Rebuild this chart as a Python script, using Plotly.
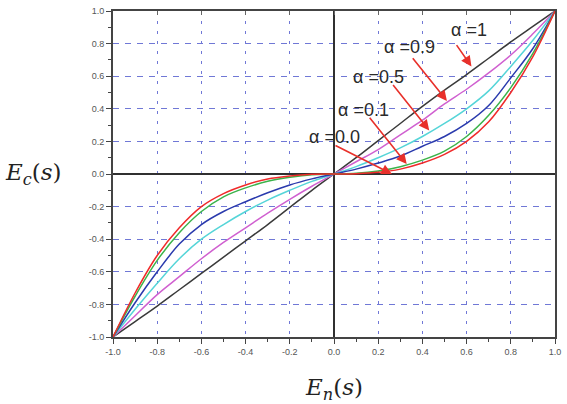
import plotly.graph_objects as go

x_vals = [-1.0, -0.9, -0.8, -0.7, -0.6, -0.5, -0.4, -0.3, -0.2, -0.1, 0.0,
          0.1, 0.2, 0.3, 0.4, 0.5, 0.6, 0.7, 0.8, 0.9, 1.0]

alpha_1 = [-1.0, -0.905, -0.81, -0.71, -0.61, -0.51, -0.41, -0.31, -0.205, -0.1, 0.0,
           0.1, 0.205, 0.31, 0.415, 0.515, 0.61, 0.71, 0.81, 0.905, 1.0]
alpha_09 = [-1.0, -0.87, -0.74, -0.63, -0.52, -0.42, -0.33, -0.24, -0.155, -0.075, 0.0,
            0.075, 0.15, 0.24, 0.33, 0.43, 0.52, 0.62, 0.73, 0.86, 1.0]
alpha_05 = [-1.0, -0.83, -0.67, -0.52, -0.40, -0.31, -0.23, -0.16, -0.10, -0.045, 0.0,
            0.045, 0.10, 0.16, 0.23, 0.31, 0.40, 0.51, 0.66, 0.82, 1.0]
alpha_01 = [-1.0, -0.79, -0.60, -0.43, -0.31, -0.23, -0.17, -0.115, -0.067, -0.03, 0.0,
            0.03, 0.067, 0.11, 0.17, 0.23, 0.31, 0.42, 0.59, 0.77, 1.0]
alpha_green = [-1.0, -0.75, -0.53, -0.36, -0.23, -0.14, -0.085, -0.045, -0.02, -0.004, 0.0,
               0.004, 0.018, 0.045, 0.085, 0.14, 0.23, 0.36, 0.53, 0.74, 1.0]
alpha_00 = [-1.0, -0.73, -0.50, -0.33, -0.20, -0.12, -0.067, -0.03, -0.012, -0.002, 0.0,
            0.002, 0.01, 0.03, 0.067, 0.12, 0.20, 0.32, 0.50, 0.72, 1.0]

series = [alpha_1, alpha_09, alpha_05, alpha_01, alpha_green, alpha_00]
colors = ["#3a3a3a", "#d060d0", "#55d5d8", "#2a3aad", "#3bb34a", "#f02a2a"]

label_texts = ["α =1", "α =0.9", "α =0.5", "α =0.1", "α =0.0"]
label_pos = [(0.61, 0.885), (0.342, 0.78), (0.2, 0.594), (0.133, 0.394), (0.0, 0.224)]
arrow_tail = [(0.55, 0.80), (0.351, 0.72), (0.262, 0.555), (0.156, 0.355), (0.0, 0.18)]
arrow_head = [(0.622, 0.66), (0.511, 0.448), (0.431, 0.267), (0.329, 0.061), (0.262, 0.0)]

tick_vals = [-1.0, -0.8, -0.6, -0.4, -0.2, 0.0, 0.2, 0.4, 0.6, 0.8, 1.0]
tick_text = ["-1.0", "-0.8", "-0.6", "-0.4", "-0.2", "0.0", "0.2", "0.4", "0.6", "0.8", "1.0"]

fig = go.Figure()
for ys, c in zip(series, colors):
    fig.add_trace(go.Scatter(x=x_vals, y=ys, mode="lines", line=dict(color=c, width=1.5, shape="spline"),
                             showlegend=False, hoverinfo="skip"))

# invisible trace for top axis with inward ticks
fig.add_trace(go.Scatter(x=[-1, 1], y=[0, 0], xaxis="x2", mode="lines", line=dict(width=0),
                         showlegend=False, hoverinfo="skip"))

grid_col = "#7078d6"
fig.update_layout(
    width=567, height=404,
    margin=dict(l=113, r=6, t=7, b=67),
    paper_bgcolor="white", plot_bgcolor="white",
    xaxis=dict(range=[-1, 1], tickvals=tick_vals, ticktext=tick_text,
               showgrid=True, gridcolor=grid_col, gridwidth=1, griddash="3px,7px",
               zeroline=True, zerolinecolor="#303030", zerolinewidth=2,
               showline=True, linecolor="#444", linewidth=2, mirror=True,
               ticks="outside", ticklen=5, tickcolor="#444", tickwidth=1,
               minor=dict(dtick=0.1, tick0=0, ticks="outside", ticklen=3, tickcolor="#444", showgrid=False),
               tickfont=dict(family="Liberation Sans, Arial", size=9, color="#555")),
    xaxis2=dict(range=[-1, 1], overlaying="x", side="top", tickvals=tick_vals,
                showticklabels=False, showgrid=False, zeroline=False,
                ticks="inside", ticklen=4, tickcolor="#666", tickwidth=1),
    yaxis=dict(range=[-1, 1], tickvals=tick_vals, ticktext=tick_text,
               showgrid=True, gridcolor=grid_col, gridwidth=1, griddash="6px,6px",
               zeroline=True, zerolinecolor="#303030", zerolinewidth=2,
               showline=True, linecolor="#444", linewidth=2, mirror=True,
               ticks="outside", ticklen=5, tickcolor="#444", tickwidth=1,
               minor=dict(dtick=0.1, tick0=0, ticks="outside", ticklen=3, tickcolor="#444", showgrid=False),
               tickfont=dict(family="Liberation Sans, Arial", size=9, color="#555")),
)

for t, (lx, ly) in zip(label_texts, label_pos):
    fig.add_annotation(x=lx, y=ly, xref="x", yref="y", text=t, showarrow=False,
                       font=dict(family="Liberation Sans, Arial", size=18, color="#2a2a2a"))
for (tx, ty), (hx, hy) in zip(arrow_tail, arrow_head):
    fig.add_annotation(x=hx, y=hy, ax=tx, ay=ty, xref="x", yref="y", axref="x", ayref="y",
                       text="", showarrow=True, arrowhead=2, arrowsize=1.3, arrowwidth=1.6,
                       arrowcolor="#e8302a")

# axis titles
fig.add_annotation(xref="paper", yref="paper", x=-0.25, y=0.5, xanchor="left", yanchor="middle",
                   text="<i>E</i><sub><i>c</i></sub>(<i>s</i>)", showarrow=False,
                   font=dict(family="DejaVu Serif", size=23, color="#222"))
fig.add_annotation(xref="paper", yref="paper", x=0.5, y=-0.16, xanchor="center", yanchor="middle",
                   text="<i>E</i><sub><i>n</i></sub>(<i>s</i>)", showarrow=False,
                   font=dict(family="DejaVu Serif", size=23, color="#222"))

fig.write_html("out.html")
